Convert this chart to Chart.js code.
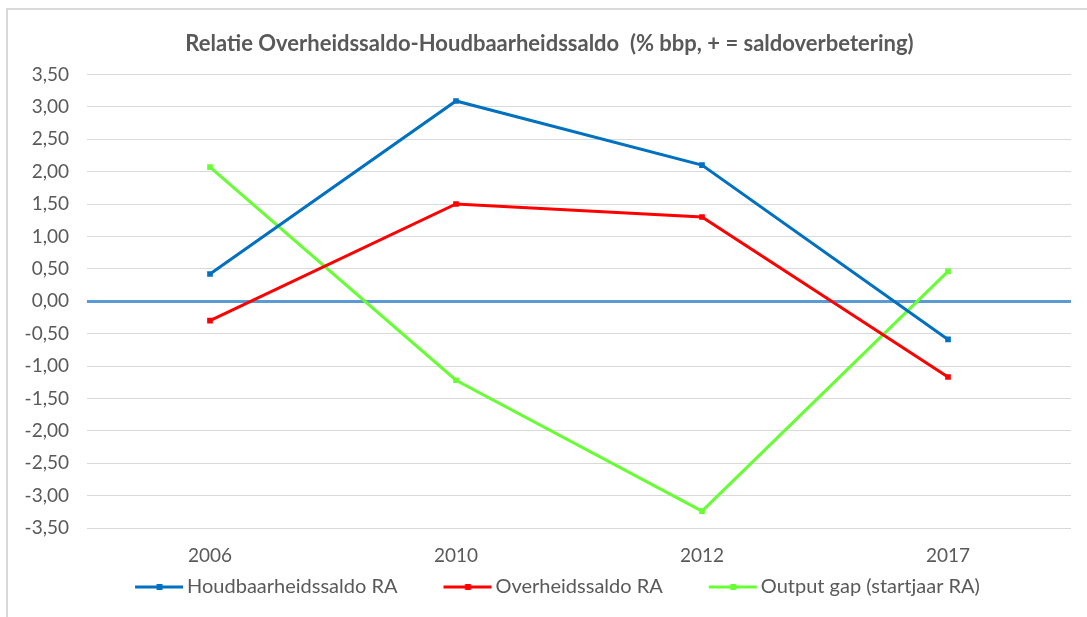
<!DOCTYPE html>
<html>
<head>
<meta charset="utf-8">
<script src="https://cdn.jsdelivr.net/npm/chart.js@4.4.1/dist/chart.umd.min.js"></script>
<style>
  html, body { margin: 0; padding: 0; background: #fff; }
  #frame { position: absolute; left: 6px; top: 8px; width: 1200px; height: 800px;
           border-left: 2px solid #D9D9D9; border-top: 2px solid #D9D9D9; }
  #wrap { position: absolute; left: 0; top: 0; width: 1087px; height: 617px; }
</style>
</head>
<body>
<div id="frame"></div>
<div id="wrap"><canvas id="chart" width="1087" height="617"></canvas></div>
<script>
const years = ['2006', '2010', '2012', '2017'];
const houdbaarheidssaldo = [0.42, 3.09, 2.10, -0.59];
const overheidssaldo = [-0.30, 1.50, 1.30, -1.17];
const outputGap = [2.07, -1.22, -3.24, 0.46];

const seriesNames = ['Houdbaarheidssaldo RA', 'Overheidssaldo RA', 'Output gap (startjaar RA)'];
const seriesColors = ['#0070C0', '#FF0000', '#66FF33'];

const textColor = '#595959';
const fontFamily = 'Lato, "Liberation Sans", sans-serif';

// legend symbol: line with a small square marker, blank space on the left for spacing
const boxW = 78;
function legendSymbol(color) {
    const c = document.createElement('canvas');
    c.width = boxW + 14;
    c.height = 10;
    const g = c.getContext('2d');
    g.strokeStyle = color;
    g.lineWidth = 3;
    g.beginPath();
    g.moveTo(43, 5);
    g.lineTo(c.width - 1, 5);
    g.stroke();
    g.fillStyle = color;
    const mid = (43 + c.width) / 2;
    g.fillRect(mid - 3, 2, 6, 6);
    return c;
}

// nudge title / legend a bit to the right, like the original
const shiftBlocks = {
    id: 'shiftBlocks',
    afterLayout(chart) {
        chart.titleBlock.left += 28;
        chart.legend.left += 8;
    }
};

const allValues = [houdbaarheidssaldo, overheidssaldo, outputGap];

const ctx = document.getElementById('chart').getContext('2d');
new Chart(ctx, {
    type: 'line',
    data: {
        labels: years,
        datasets: allValues.map((vals, i) => ({
            label: seriesNames[i],
            data: vals,
            borderColor: seriesColors[i],
            backgroundColor: seriesColors[i],
            borderWidth: 3,
            pointStyle: 'rect',
            pointRadius: 4,
            pointBorderWidth: 0,
            tension: 0,
            fill: false,
        }))
    },
    options: {
        responsive: false,
        animation: false,
        events: [],
        layout: { padding: { left: 0, right: 16, top: 0, bottom: 10 } },
        plugins: {
            title: {
                display: true,
                text: 'Relatie Overheidssaldo-Houdbaarheidssaldo  (% bbp, + = saldoverbetering)',
                color: textColor,
                font: { family: fontFamily, size: 22, weight: 'bold' },
                padding: { top: 31, bottom: 17 }
            },
            legend: {
                position: 'bottom',
                labels: {
                    color: textColor,
                    font: { family: fontFamily, size: 20 },
                    usePointStyle: true,
                    pointStyleWidth: boxW,
                    boxHeight: 10,
                    padding: 10,
                    generateLabels: (chart) => chart.data.datasets.map((ds, i) => ({
                        text: ds.label,
                        fontColor: textColor,
                        pointStyle: legendSymbol(seriesColors[i]),
                        datasetIndex: i,
                        lineWidth: 0,
                        strokeStyle: 'transparent',
                        fillStyle: 'transparent',
                    }))
                }
            },
            tooltip: { enabled: false }
        },
        scales: {
            x: {
                offset: true,
                afterFit: (scale) => { scale.height = 39; },
                grid: { display: false, drawTicks: false },
                border: { display: false },
                ticks: {
                    color: textColor,
                    font: { family: fontFamily, size: 19 },
                    padding: 16
                }
            },
            y: {
                min: -3.5,
                max: 3.5,
                afterFit: (scale) => { scale.width = 87; },
                grid: {
                    drawTicks: false,
                    color: (c) => c.tick && c.tick.value === 0 ? '#5B9BD5' : '#D9D9D9',
                    lineWidth: (c) => c.tick && c.tick.value === 0 ? 3 : 1
                },
                border: { display: false },
                ticks: {
                    stepSize: 0.5,
                    color: textColor,
                    font: { family: fontFamily, size: 19 },
                    padding: 18,
                    callback: (v) => v.toFixed(2).replace('.', ',')
                }
            }
        }
    },
    plugins: [shiftBlocks]
});
</script>
</body>
</html>
